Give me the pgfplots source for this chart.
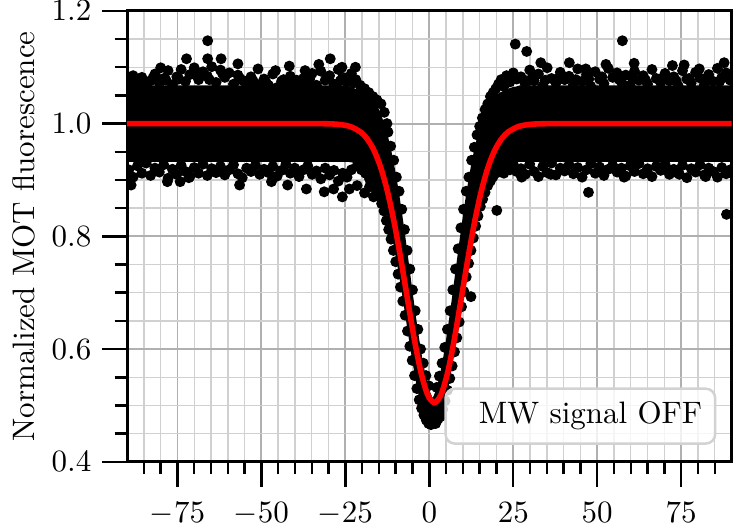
\documentclass[border=0pt]{standalone}
\usepackage{pgfplots}
\pgfplotsset{compat=1.18}
\definecolor{majgrid}{RGB}{176,176,176}
\definecolor{mingrid}{RGB}{208,208,208}
\definecolor{legframe}{RGB}{210,210,210}
\begin{document}
\begin{tikzpicture}
\begin{axis}[
  at={(0,0)}, anchor=south west, scale only axis,
  width=195pt, height=145.5pt,
  xmin=-90, xmax=90, ymin=0.4, ymax=1.2,
  xtick={-75,-50,-25,0,25,50,75},
  ytick={0.4,0.6,0.8,1.0,1.2},
  minor xtick={-85,-80,-70,-65,-60,-55,-45,-40,-35,-30,-20,-15,-10,-5,5,10,15,20,30,35,40,45,55,60,65,70,80,85},
  minor ytick={0.45,0.5,0.55,0.65,0.7,0.75,0.85,0.9,0.95,1.05,1.1,1.15},
  yticklabel style={/pgf/number format/fixed, /pgf/number format/fixed zerofill, /pgf/number format/precision=1},
  xticklabel style={yshift=-1.6pt},
  grid=both,
  major grid style={color=majgrid, line width=0.6pt},
  minor grid style={color=mingrid, line width=0.45pt},
  tick align=outside, xtick pos=bottom, ytick pos=left,
  major tick length=8pt, minor tick length=4pt,
  tick style={black, line width=0.8pt},
  set layers,
  axis line style={line width=1pt, on layer=axis foreground},
  clip marker paths=true,
  ylabel={Normalized MOT fluorescence},
  ylabel style={at={(axis description cs:-0.171,0.5)}, anchor=center},
]
% dense core of the data cloud
\addplot[fill=black, draw=none, forget plot] coordinates {
(-90,1.068) (-25,1.068) (-24,1.066) (-23,1.064) (-22,1.062) (-21,1.060) (-20,1.058)
(-19,1.055) (-18,1.051) (-17,1.045) (-16,1.036) (-15,1.025) (-14,1.010) (-13,0.992)
(-12,0.970) (-11,0.943) (-10,0.912) (-9,0.876) (-8,0.836) (-7,0.793) (-6,0.748)
(-5,0.702) (-4,0.658) (-3,0.617) (-2,0.580) (-1,0.550) (0,0.527) (1,0.513)
(2,0.527) (3,0.550) (4,0.580) (5,0.617) (6,0.658) (7,0.702) (8,0.748) (9,0.793)
(10,0.836) (11,0.876) (12,0.912) (13,0.943) (14,0.970) (15,0.992) (16,1.010)
(17,1.025) (18,1.036) (19,1.045) (20,1.051) (21,1.055) (22,1.058) (23,1.061)
(24,1.063) (25,1.065) (26,1.066) (27,1.068) (90,1.068)
(90,0.932) (27,0.932) (26,0.932) (25,0.931) (24,0.930) (23,0.928) (22,0.925)
(21,0.921) (20,0.916) (19,0.908) (18,0.898) (17,0.884) (16,0.868) (15,0.848)
(14,0.824) (13,0.796) (12,0.765) (11,0.730) (10,0.693) (9,0.654) (8,0.614)
(7,0.577) (6,0.542) (5,0.513) (4,0.491) (3,0.477) (2,0.472) (1,0.472) (0,0.472)
(-1,0.477) (-2,0.491) (-3,0.513) (-4,0.542) (-5,0.577) (-6,0.614) (-7,0.654)
(-8,0.693) (-9,0.730) (-10,0.765) (-11,0.796) (-12,0.824) (-13,0.848) (-14,0.868)
(-15,0.884) (-16,0.898) (-17,0.908) (-18,0.916) (-19,0.921) (-20,0.925) (-21,0.928)
(-22,0.930) (-23,0.931) (-24,0.932) (-25,0.932) (-90,0.932)
} -- cycle;
% individual measurements at the edges of the cloud
\addplot[only marks, mark=*, mark size=1.55pt, black, forget plot] coordinates {
(-89.5,1.078) (-88.2,1.085) (-86.9,1.070) (-85.6,1.082) (-84.3,1.066) (-83.0,1.076)
(-81.7,1.088) (-80.4,1.072) (-79.1,1.080) (-77.8,1.094) (-76.5,1.069) (-75.2,1.083)
(-73.9,1.096) (-72.6,1.075) (-71.3,1.087) (-70.0,1.099) (-68.7,1.078) (-67.4,1.092)
(-66.1,1.084) (-64.8,1.101) (-63.5,1.073) (-62.2,1.095) (-60.9,1.082) (-59.6,1.090)
(-58.3,1.070) (-57.0,1.086) (-55.7,1.077) (-54.4,1.067) (-53.1,1.083) (-51.8,1.071)
(-50.5,1.062) (-49.2,1.079) (-47.9,1.068) (-46.6,1.088) (-45.3,1.064) (-44.0,1.075)
(-42.7,1.069) (-41.4,1.084) (-40.1,1.072) (-38.8,1.066) (-37.5,1.080) (-36.2,1.073)
(-34.9,1.089) (-33.6,1.068) (-32.3,1.093) (-31.0,1.077) (-29.7,1.085) (-28.4,1.070)
(-27.1,1.096) (-25.8,1.082) (-24.5,1.074) (-23.2,1.089) (-21.9,1.078) (-20.6,1.068)
(-88.9,1.074) (-87.5,1.079) (-85.0,1.074) (-82.3,1.081) (-78.4,1.077) (-74.6,1.079)
(-69.4,1.086) (-65.5,1.078) (-61.6,1.089) (-56.4,1.080) (-52.5,1.076) (-48.6,1.073)
(-43.4,1.078) (-39.5,1.077) (-35.6,1.079) (-30.4,1.081) (-26.5,1.076) (-22.6,1.072)
(-66,1.147) (-72.3,1.115) (-66,1.115) (-62,1.115) (-29.5,1.115) (-41.7,1.102)
(-22,1.100) (-45.8,1.094) (-32.9,1.105) (-26,1.100) (-80,1.099) (-57,1.106)
(-51,1.097) (-37,1.094)
(-19.3,1.062) (-18,1.055) (-16.8,1.048) (-15.6,1.042) (-14.4,1.035) (-13.4,1.020)
(-12.6,1.000)
(-12.3,0.985) (-11.5,0.960) (-10.6,0.935) (-9.8,0.905) (-9.0,0.880) (-8.2,0.848)
(-7.4,0.812) (-6.6,0.775) (-5.8,0.742) (-5.0,0.705) (-4.2,0.668) (-3.4,0.635)
(-2.6,0.600) (-1.8,0.575) (-1.0,0.553) (-0.2,0.535)
(2.2,0.532) (3.0,0.552) (3.8,0.575) (4.6,0.603) (5.4,0.635) (6.2,0.668) (7.0,0.705)
(7.8,0.742) (8.6,0.778) (9.4,0.815) (10.2,0.848) (11.0,0.880) (11.8,0.905)
(12.6,0.935) (13.4,0.958) (14.2,0.980) (15.0,0.995) (15.8,1.010) (16.6,1.025)
(17.4,1.035) (18.2,1.048) (19.0,1.055) (19.8,1.062) (20.6,1.070) (21.4,1.078)
(22.2,1.066) (23.0,1.085) (24.0,1.074) (25.0,1.090) (26.0,1.079)
(27.3,1.083) (28.6,1.070) (29.9,1.095) (31.2,1.076) (32.5,1.088) (33.8,1.067)
(35.1,1.099) (36.4,1.080) (37.7,1.072) (39.0,1.091) (40.3,1.078) (41.6,1.084)
(42.9,1.069) (44.2,1.097) (45.5,1.075) (46.8,1.087) (48.1,1.066) (49.4,1.092)
(50.7,1.079) (52.0,1.071) (53.3,1.098) (54.6,1.082) (55.9,1.090) (57.2,1.074)
(58.5,1.086) (59.8,1.068) (61.1,1.093) (62.4,1.077) (63.7,1.085) (65.0,1.070)
(66.3,1.096) (67.6,1.080) (68.9,1.073) (70.2,1.089) (71.5,1.076) (72.8,1.083)
(74.1,1.067) (75.4,1.094) (76.7,1.079) (78.0,1.072) (79.3,1.091) (80.6,1.081)
(81.9,1.069) (83.2,1.087) (84.5,1.075) (85.8,1.098) (87.1,1.082) (88.4,1.090)
(89.6,1.077)
(28.0,1.078) (30.6,1.081) (34.5,1.077) (38.4,1.080) (43.6,1.078) (47.5,1.079)
(51.4,1.083) (56.6,1.078) (60.5,1.080) (64.4,1.077) (69.6,1.081) (73.5,1.076)
(77.4,1.080) (82.6,1.078) (86.5,1.075) (89.0,1.081)
(25.6,1.141) (29,1.128) (57.5,1.147) (33.2,1.108) (41.7,1.108) (52.6,1.105)
(61,1.107) (72.4,1.103) (75.9,1.104) (87.8,1.108) (46.6,1.097) (80.4,1.097)
(-89.5,0.918) (-88.2,0.905) (-86.9,0.925) (-85.6,0.912) (-84.3,0.930) (-83.0,0.908)
(-81.7,0.921) (-80.4,0.914) (-79.1,0.927) (-77.8,0.903) (-76.5,0.919) (-75.2,0.910)
(-73.9,0.926) (-72.6,0.915) (-71.3,0.906) (-70.0,0.922) (-68.7,0.912) (-67.4,0.928)
(-66.1,0.908) (-64.8,0.920) (-63.5,0.913) (-62.2,0.924) (-60.9,0.909) (-59.6,0.918)
(-58.3,0.927) (-57.0,0.911) (-55.7,0.904) (-54.4,0.921) (-53.1,0.915) (-51.8,0.926)
(-50.5,0.910) (-49.2,0.919) (-47.9,0.913) (-46.6,0.924) (-45.3,0.907) (-44.0,0.917)
(-42.7,0.928) (-41.4,0.912) (-40.1,0.921) (-38.8,0.906) (-37.5,0.918) (-36.2,0.925)
(-34.9,0.910) (-33.6,0.916) (-32.3,0.902) (-31.0,0.921) (-29.7,0.909) (-28.4,0.917)
(-27.1,0.898) (-25.8,0.912) (-24.5,0.905) (-23.2,0.918)
(-88.8,0.891) (-78,0.897) (-74.2,0.897) (-71.6,0.904) (-56.5,0.891) (-47,0.897)
(-42.2,0.891) (-36.6,0.884) (-31.3,0.879) (-28.5,0.884) (-25.9,0.870) (-23.8,0.884)
(-19.3,0.877) (-16.6,0.870) (-21.5,0.890) (-17.8,0.888)
(-21.5,0.925) (-20.2,0.918) (-19.0,0.912) (-17.8,0.902) (-16.8,0.893) (-15.8,0.882)
(-15.0,0.872) (-14.2,0.858) (-13.5,0.845) (-12.8,0.828) (-12.1,0.812) (-11.4,0.795)
(-10.7,0.775) (-10.0,0.755) (-9.3,0.733) (-8.6,0.710) (-7.9,0.685) (-7.2,0.660)
(-6.5,0.632) (-5.8,0.605) (-5.1,0.580) (-4.4,0.553) (-3.7,0.530) (-3.0,0.510)
(-2.3,0.495) (-1.6,0.483) (-0.9,0.474) (-0.2,0.468) (0.5,0.466) (1.2,0.470)
(1.9,0.468) (2.6,0.476)
(3.3,0.480) (4.0,0.493) (4.7,0.508) (5.4,0.527) (6.1,0.548) (6.8,0.570) (7.5,0.595)
(8.2,0.620) (8.9,0.648) (9.6,0.675) (10.3,0.702) (11.0,0.728) (11.7,0.752)
(12.4,0.775) (13.1,0.797) (13.8,0.818) (14.5,0.836) (15.2,0.853) (15.9,0.866)
(16.6,0.878) (17.4,0.890) (18.2,0.898) (19.0,0.906) (19.8,0.912) (20.6,0.918)
(21.4,0.923) (22.2,0.912) (23.0,0.926) (24.0,0.918) (25.0,0.928) (26.0,0.915)
(12.4,0.693) (20.1,0.846)
(27.3,0.920) (28.6,0.910) (29.9,0.928) (31.2,0.915) (32.5,0.906) (33.8,0.924)
(35.1,0.913) (36.4,0.930) (37.7,0.909) (39.0,0.921) (40.3,0.916) (41.6,0.927)
(42.9,0.911) (44.2,0.922) (45.5,0.905) (46.8,0.918) (48.1,0.929) (49.4,0.912)
(50.7,0.923) (52.0,0.908) (53.3,0.919) (54.6,0.926) (55.9,0.914) (57.2,0.921)
(58.5,0.907) (59.8,0.925) (61.1,0.915) (62.4,0.929) (63.7,0.911) (65.0,0.920)
(66.3,0.906) (67.6,0.924) (68.9,0.917) (70.2,0.928) (71.5,0.910) (72.8,0.919)
(74.1,0.912) (75.4,0.926) (76.7,0.904) (78.0,0.920) (79.3,0.914) (80.6,0.927)
(81.9,0.909) (83.2,0.921) (84.5,0.915) (85.8,0.905) (87.1,0.922) (88.4,0.911)
(89.6,0.918)
(47.4,0.878) (88.5,0.839) (58,0.905) (36.2,0.910) (27.5,0.905) (82.3,0.906)
(74.5,0.910) (70.4,0.918)
};
% fitted curve
\addplot[red, line width=1.8pt, smooth, forget plot] coordinates {
(-90,1.0) (-40.5,1.0) (-30.5,0.9997) (-26.5,0.9983) (-23.5,0.9947) (-20.5,0.9852)
(-18.5,0.9728) (-16.5,0.9529) (-14.5,0.9228) (-12.5,0.8806) (-10.5,0.8259)
(-8.5,0.7604) (-6.5,0.6889) (-4.5,0.6188) (-2.5,0.5593) (-0.5,0.5192) (1.5,0.505)
(3.5,0.5192) (5.5,0.5593) (7.5,0.6188) (9.5,0.6889) (11.5,0.7604) (13.5,0.8259)
(15.5,0.8806) (17.5,0.9228) (19.5,0.9529) (21.5,0.9728) (23.5,0.9852)
(26.5,0.9947) (29.5,0.9983) (33.5,0.9997) (43.5,1.0) (90,1.0)
};
\node[anchor=south east, draw=legframe, line width=0.8pt, rounded corners=3pt,
      fill=white, fill opacity=0.8, text opacity=1, inner xsep=0pt,
      minimum height=17.7pt]
  at (rel axis cs:0.975,0.0378) {\makebox[87pt][r]{MW signal OFF\hspace{4.2pt}}};
\end{axis}
\pgfresetboundingbox
\path[use as bounding box] (-41pt,-22.6pt) rectangle (200pt,149pt);
\end{tikzpicture}
\end{document}
